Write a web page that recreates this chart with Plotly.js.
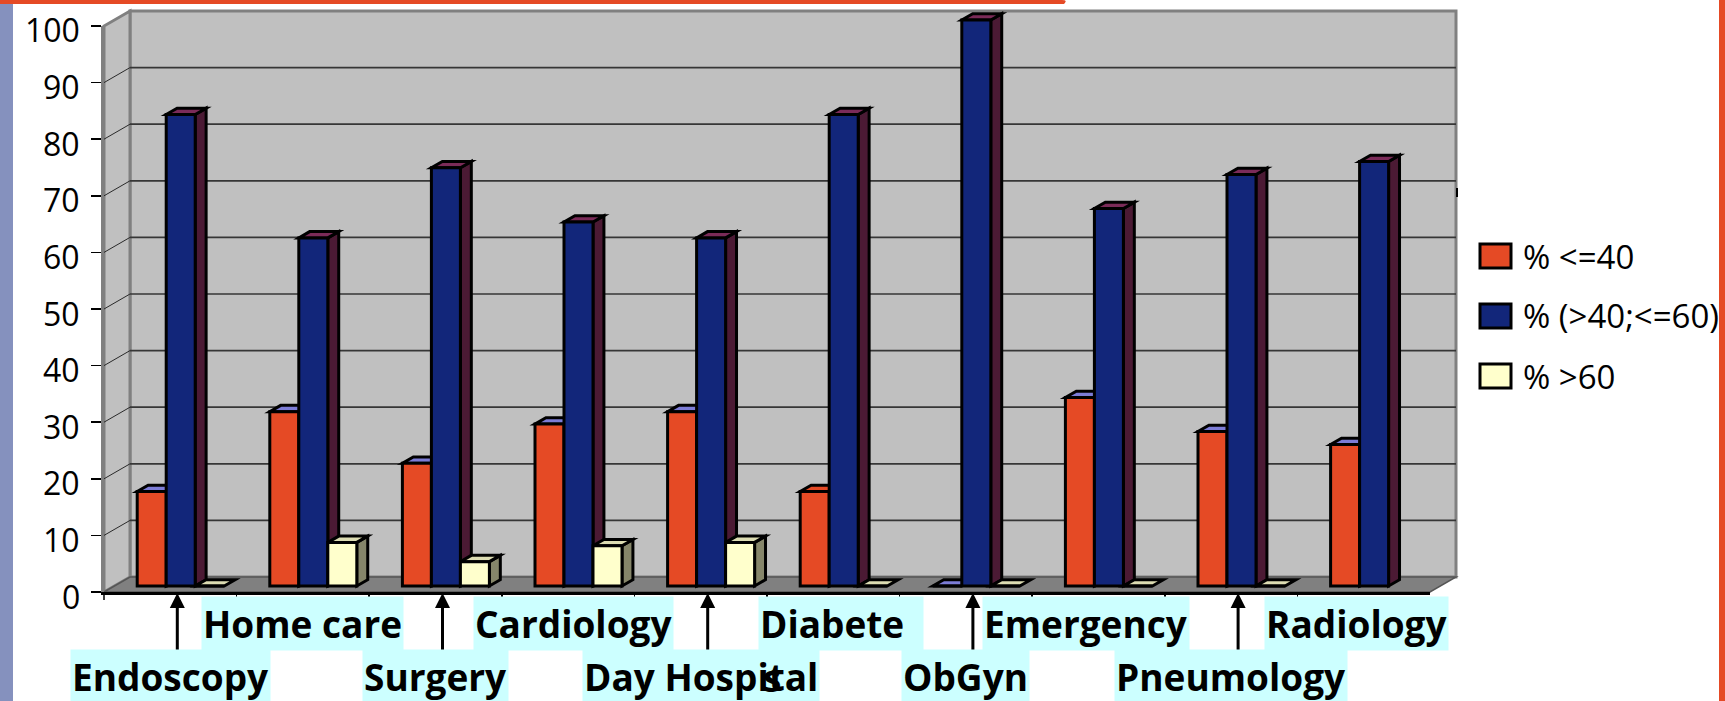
<!DOCTYPE html>
<html>
<head>
<meta charset="utf-8">
<script src="https://cdn.plot.ly/plotly-3.0.1.min.js"></script>
<style>
  html, body { margin: 0; padding: 0; background: #ffffff; }
  #chart { width: 1725px; height: 701px; }
</style>
</head>
<body>
<div id="chart"></div>
<script>
// ---- data ----
const categories = ['Endoscopy', 'Home care', 'Surgery', 'Cardiology', 'Day Hospital',
                    'Diabetes', 'ObGyn', 'Emergency', 'Pneumology', 'Radiology'];
const seriesNames = ['% <=40', '% (>40;<=60)', '% >60'];
const pctUpTo40  = [16.7, 30.8, 21.7, 28.6, 30.8, 16.7, 0,   33.3, 27.3, 25.0];
const pct40to60  = [83.3, 61.5, 73.9, 64.3, 61.5, 83.3, 100, 66.7, 72.7, 75.0];
const pctOver60  = [0,    7.7,  4.3,  7.1,  7.7,  0,    0,   0,    0,    null];
const yTicks = [0, 10, 20, 30, 40, 50, 60, 70, 80, 90, 100];

// ---- styling ----
const frontColors = ['#e54a25', '#12267a', '#ffffcc'];
const topColors   = ['#7c7cd6', '#7b2b58', '#dcdcb2'];
const sideColors  = ['#8a2c16', '#4b1a34', '#86866a'];
const labelBg = '#ccffff';
const labelNudgePx = [0, 0, 0, 5, 0, 0, 0, -13, 0, -7];
const series = [pctUpTo40, pct40to60, pctOver60];

// ---- oblique 3D geometry (pixels) ----
const W = 1725, H = 701;
const FRONT_X0 = 104, FRONT_X1 = 1430;   // front edge of the floor
const ZERO_Y = 592, TOP_Y = 26;          // front plane rows for 0 and 100
const DEPTH_DX = 26, DEPTH_DY = -15;     // shift from front plane to back wall
const BAR_FRONT = 0.4, BAR_BACK = 0.82;  // bar depth span (0 = front, 1 = back)
const BAR_PX = 29;
const n = categories.length;
const catW = (FRONT_X1 - FRONT_X0) / n;
const yScale = (ZERO_Y - TOP_Y) / 100;
const barW = BAR_PX / catW;

// main axes live in the bars' front-face plane and span the whole page
const barPlaneX = FRONT_X0 + DEPTH_DX * BAR_FRONT;
const barPlaneY = ZERO_Y + DEPTH_DY * BAR_FRONT;
const xRange = [(0 - barPlaneX) / catW - 0.5, (W - barPlaneX) / catW - 0.5];
const yRange = [(barPlaneY - H) / yScale, barPlaneY / yScale];

// a point (category position u, value v, depth d) in main-axis data units
function P(u, v, d) {
  return [u + DEPTH_DX * (d - BAR_FRONT) / catW, v - DEPTH_DY * (d - BAR_FRONT) / yScale];
}
function poly(pts) {
  return 'M' + pts.map(p => p[0].toFixed(5) + ',' + p[1].toFixed(5)).join('L') + 'Z';
}

const shapes = [];
const uL = -0.5, uR = n - 0.5;

// back wall, side wall, floor
shapes.push({type: 'path', xref: 'x', yref: 'y', layer: 'below',
  path: poly([P(uL, 0, 1), P(uL, 100, 1), P(uR, 100, 1), P(uR, 0, 1)]),
  fillcolor: '#c0c0c0', line: {color: '#808080', width: 3}});
shapes.push({type: 'path', xref: 'x', yref: 'y', layer: 'below',
  path: poly([P(uL, 0, 0), P(uL, 100, 0), P(uL, 100, 1), P(uL, 0, 1)]),
  fillcolor: '#c0c0c0', line: {color: '#808080', width: 3}});
shapes.push({type: 'path', xref: 'x', yref: 'y', layer: 'below',
  path: poly([P(uL, 0, 0), P(uL, 0, 1), P(uR, 0, 1), P(uR, 0, 0)]),
  fillcolor: '#808080', line: {color: '#555555', width: 1.5}});

// gridlines on back wall and side wall
yTicks.filter(t => t > 0 && t < 100).forEach(t => {
  const a = P(uL, t, 1), b = P(uR, t, 1), c = P(uL, t, 0);
  shapes.push({type: 'line', xref: 'x', yref: 'y', layer: 'below',
    x0: a[0], y0: a[1], x1: b[0], y1: b[1], line: {color: '#363636', width: 1.7}});
  shapes.push({type: 'line', xref: 'x', yref: 'y', layer: 'below',
    x0: c[0], y0: c[1], x1: a[0], y1: a[1], line: {color: '#2a2a2a', width: 1}});
});

// side and top faces of every bar (front faces are the bar traces)
const offsets = [-1.5 * barW, -0.5 * barW, 0.5 * barW];
categories.forEach((c, k) => {
  series.forEach((vals, i) => {
    const v = vals[k];
    if (v === null || v === undefined) return;
    const l = k + offsets[i], r = l + barW;
    if (v > 0) {
      shapes.push({type: 'path', xref: 'x', yref: 'y', layer: 'below',
        path: poly([P(r, 0, BAR_FRONT), P(r, v, BAR_FRONT), P(r, v, BAR_BACK), P(r, 0, BAR_BACK)]),
        fillcolor: sideColors[i], line: {color: '#000000', width: 3}});
    }
    const topFill = (i === 0 && k === 5) ? frontColors[0] : topColors[i];
    shapes.push({type: 'path', xref: 'x', yref: 'y', layer: 'below',
      path: poly([P(l, v, BAR_FRONT), P(r, v, BAR_FRONT), P(r, v, BAR_BACK), P(l, v, BAR_BACK)]),
      fillcolor: topFill, line: {color: '#000000', width: 3}});
  });
});

// page decoration
shapes.push({type: 'rect', xref: 'paper', yref: 'paper', layer: 'above',
  x0: 0, x1: 13 / W, y0: 0, y1: 1, fillcolor: '#8591be', line: {width: 0}});
shapes.push({type: 'path', xref: 'paper', yref: 'paper', layer: 'above',
  path: 'M0,1 L' + (1062 / W) + ',1 Q' + (1068 / W) + ',1 ' + (1064 / W) + ',' + (1 - 4 / H) + ' L0,' + (1 - 4 / H) + ' Z',
  fillcolor: '#e54a25', line: {width: 0}});
shapes.push({type: 'rect', xref: 'paper', yref: 'paper', layer: 'above',
  x0: 1719 / W, x1: 1, y0: 0, y1: 1, fillcolor: '#e54a25', line: {width: 0}});
shapes.push({type: 'line', xref: 'paper', yref: 'paper', layer: 'above',
  x0: 1457 / W, x1: 1457 / W, y0: 1 - 188 / H, y1: 1 - 197 / H, line: {color: '#000', width: 2}});
// value axis runs a little below the floor edge
shapes.push({type: 'line', xref: 'paper', yref: 'paper', layer: 'above',
  x0: FRONT_X0 / W, x1: FRONT_X0 / W, y0: 1 - ZERO_Y / H, y1: 1 - 600 / H,
  line: {color: '#000', width: 1.5}});

const annotations = [];

// value axis labels
yTicks.forEach(t => {
  annotations.push({xref: 'paper', yref: 'y2', x: 82 / W, y: t, yshift: -4,
    xanchor: 'right', yanchor: 'middle', showarrow: false, text: String(t),
    font: {family: 'Open Sans', size: 32, color: '#000000'}});
});

// legend
const legendY = [256, 316, 376];
seriesNames.forEach((name, i) => {
  shapes.push({type: 'rect', xref: 'paper', yref: 'paper', layer: 'above',
    x0: 1480 / W, x1: 1511 / W, y0: 1 - (legendY[i] + 12) / H, y1: 1 - (legendY[i] - 12) / H,
    fillcolor: frontColors[i], line: {color: '#000000', width: 3}});
  annotations.push({xref: 'paper', yref: 'paper', x: 1521 / W, y: 1 - legendY[i] / H,
    xanchor: 'left', yanchor: 'middle', showarrow: false, text: name,
    font: {family: 'Open Sans', size: 33, color: '#000000'}});
});

// category labels: odd ones on the upper row, even ones lower with a pointer arrow
const catCenter = k => FRONT_X0 + catW * (k + 0.5);
const wrapAfter = {5: 7};
const UPPER_TOP = 596, LOWER_TOP = 649;
categories.forEach((name, k) => {
  if (k % 2 === 0) {
    annotations.push({xref: 'paper', yref: 'paper', x: (catCenter(k) + 7) / W, y: 1 - 593 / H,
      text: '', showarrow: true, ax: 0, ay: 62, arrowhead: 2, arrowsize: 1,
      arrowwidth: 3, arrowcolor: '#000000', standoff: 0});
  }
});
const overflow = [];
categories.forEach((name, k) => {
  const upper = k % 2 === 1;
  const cx = catCenter(k) + labelNudgePx[k];
  const font = {family: 'Open Sans', size: 37, color: '#000000', weight: 700};
  const top = 1 - (upper ? UPPER_TOP : LOWER_TOP) / H;
  if (wrapAfter[k] !== undefined) {
    const boxW = 162;
    const left = cx + 6 - boxW / 2;
    annotations.push({xref: 'paper', yref: 'paper', x: left / W, y: top,
      xanchor: 'left', yanchor: 'top', showarrow: false, width: boxW, align: 'left',
      text: name.slice(0, wrapAfter[k]), bgcolor: labelBg, borderpad: 1, font: font});
    // the wrapped tail spills onto the lower row, over its neighbour
    overflow.push({xref: 'paper', yref: 'paper', x: (left + 3) / W, y: 1 - (UPPER_TOP + 54) / H,
      xanchor: 'left', yanchor: 'top', showarrow: false,
      text: name.slice(wrapAfter[k]), font: font});
    return;
  }
  annotations.push({xref: 'paper', yref: 'paper', x: cx / W, y: top,
    xanchor: 'center', yanchor: 'top', showarrow: false, text: name,
    bgcolor: labelBg, borderpad: 1, font: font});
});
annotations.push(...overflow);

// ---- traces: bar front faces ----
const xs = categories.map((c, k) => k);
const traces = series.map((vals, i) => ({
  type: 'bar', x: xs, y: vals, name: seriesNames[i],
  width: barW, offset: offsets[i],
  marker: {color: frontColors[i], line: {color: '#000000', width: 3}},
  hoverinfo: 'skip', showlegend: false
}));

const layout = {
  width: W, height: H, autosize: false,
  margin: {l: 0, r: 0, t: 0, b: 0, pad: 0},
  paper_bgcolor: '#ffffff', plot_bgcolor: 'rgba(0,0,0,0)',
  barmode: 'overlay', showlegend: false,
  xaxis: {domain: [0, 1], range: xRange, visible: false, fixedrange: true},
  yaxis: {domain: [0, 1], range: yRange, visible: false, fixedrange: true},
  // front plane: value axis ticks and category ticks
  xaxis2: {domain: [FRONT_X0 / W, FRONT_X1 / W], range: [-0.5, n - 0.5], anchor: 'y2',
    showgrid: false, zeroline: false, showline: true, linecolor: '#000000', linewidth: 2.5,
    ticks: 'outside', ticklen: 7, tickwidth: 1.5, tickcolor: '#000000',
    tickvals: xs.slice(0, -1).map(k => k + 0.5), showticklabels: false, fixedrange: true},
  yaxis2: {domain: [(H - ZERO_Y) / H, (H - TOP_Y) / H], range: [0, 100], anchor: 'x2',
    showgrid: false, zeroline: false, showline: true, linecolor: '#808080', linewidth: 3,
    ticks: 'outside', ticklen: 10, tickwidth: 1.5, tickcolor: '#000000',
    tickvals: yTicks, showticklabels: false, fixedrange: true},
  shapes: shapes,
  annotations: annotations
};

Plotly.newPlot('chart', traces, layout, {staticPlot: true, displayModeBar: false});
</script>
</body>
</html>
